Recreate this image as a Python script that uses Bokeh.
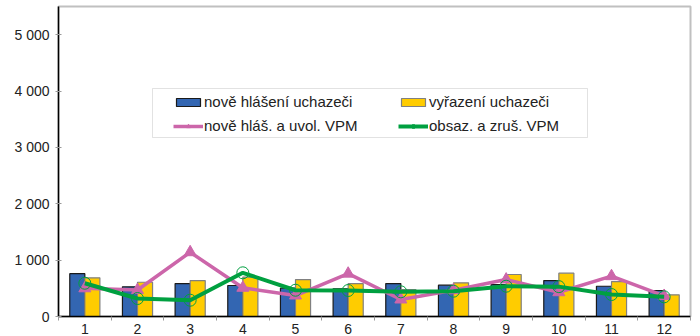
from bokeh.plotting import figure
from bokeh.models import FixedTicker, Legend, LegendItem, ColumnDataSource, Range1d, BoxAnnotation
from bokeh.embed import file_html
from bokeh.resources import INLINE
from bokeh.transform import dodge

months = [1, 2, 3, 4, 5, 6, 7, 8, 9, 10, 11, 12]
month_labels = ["1", "2", "3", "4", "5", "6", "7", "8", "9", "10", "11", "12"]
new_applicants = [760, 527, 585, 550, 502, 491, 585, 555, 567, 638, 537, 461]
removed_applicants = [686, 608, 638, 700, 656, 585, 479, 597, 745, 768, 620, 385]
new_vacancies = [500, 470, 1140, 509, 372, 760, 301, 466, 656, 430, 715, 365]
filled_vacancies = [590, 319, 289, 775, 466, 461, 438, 449, 537, 530, 390, 349]
y_ticks = [0, 1000, 2000, 3000, 4000, 5000]
y_tick_labels = ["0", "1 000", "2 000", "3 000", "4 000", "5 000"]

src = ColumnDataSource(dict(month=months, new_app=new_applicants, rem_app=removed_applicants,
                            new_vac=new_vacancies, fill_vac=filled_vacancies))

p = figure(frame_width=632, frame_height=310, output_backend="svg", toolbar_location=None,
           x_range=Range1d(0.5, 12.5), y_range=Range1d(0, 5500),
           min_border_left=58, min_border_right=8, min_border_top=6, min_border_bottom=19)
p.xgrid.visible = False
p.ygrid.visible = False
p.outline_line_color = "#c0c0c0"
p.outline_line_width = 2
p.background_fill_color = "white"
p.border_fill_color = "white"

FONT = "Liberation Sans"

b1 = p.vbar(x=dodge("month", -0.143), top="new_app", width=0.286, source=src,
            fill_color="#3366B2", line_color="#1a1a1a", line_width=1.2)
b2 = p.vbar(x=dodge("month", 0.143), top="rem_app", width=0.286, source=src,
            fill_color="#FFCC00", line_color="#808080", line_width=1.2)

pink = "#CC66AA"
green = "#00A040"
l1 = p.line("month", "new_vac", source=src, line_color=pink, line_width=3.5)
m1 = p.scatter("month", "new_vac", source=src, marker="triangle", size=12,
               fill_color=pink, line_color=pink)
l2 = p.line("month", "fill_vac", source=src, line_color=green, line_width=4)
m2 = p.scatter("month", "fill_vac", source=src, marker="circle", size=12,
               fill_alpha=0, line_color=green, line_width=1)

# axes
xa = p.xaxis[0]
xa.ticker = FixedTicker(ticks=months, minor_ticks=[m - 0.5 for m in months] + [12.5])
xa.major_label_overrides = {m: l for m, l in zip(months, month_labels)}
xa.major_tick_out = 0
xa.major_tick_in = 0
xa.minor_tick_out = 4
xa.minor_tick_in = 0
xa.minor_tick_line_color = "#999999"
xa.axis_line_color = "black"
xa.axis_line_width = 1.5
xa.major_label_text_font = FONT
xa.major_label_text_font_size = "14px"
xa.major_label_text_color = "#222222"
xa.major_label_standoff = 3

ya = p.yaxis[0]
ya.ticker = FixedTicker(ticks=y_ticks)
ya.major_label_overrides = {t: l for t, l in zip(y_ticks, y_tick_labels)}
ya.major_tick_out = 3
ya.major_tick_in = 3
ya.major_tick_line_color = "#999999"
ya.minor_tick_line_color = None
ya.axis_line_color = "black"
ya.axis_line_width = 1.5
ya.major_label_text_font = FONT
ya.major_label_text_font_size = "14px"
ya.major_label_text_color = "#222222"
ya.major_label_standoff = 6

# legend frame box (screen units, relative to the plot frame)
frame_box = BoxAnnotation(left=94, right=529, top=228, bottom=179,
                          left_units="screen", right_units="screen",
                          top_units="screen", bottom_units="screen",
                          fill_color="white", fill_alpha=1,
                          line_color="#a0a0a0", line_width=1, level="annotation")
p.add_layout(frame_box)

legend = Legend(items=[
    LegendItem(label="nově hlášení uchazeči", renderers=[b1]),
    LegendItem(label="nově hláš. a uvol. VPM", renderers=[l1, m1]),
    LegendItem(label="vyřazení uchazeči", renderers=[b2]),
    LegendItem(label="obsaz. a zruš. VPM", renderers=[l2, m2]),
], ncols=2, location=(115, 182))
legend.border_line_color = None
legend.background_fill_alpha = 0
legend.label_text_font = FONT
legend.label_text_font_size = "15px"
legend.label_text_color = "#222222"
legend.glyph_width = 30
legend.glyph_height = 10
legend.label_standoff = 1
legend.label_width = 187
legend.spacing = 7
legend.padding = 2
legend.margin = 0
p.add_layout(legend, "center")

open("out.html", "w").write(file_html(p, INLINE))
